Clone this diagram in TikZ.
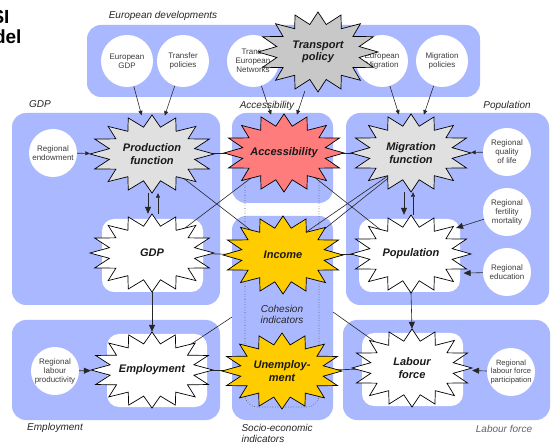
\documentclass[tikz,border=0pt]{standalone}
\usepackage{fontspec}
\setmainfont{Liberation Sans}
\usetikzlibrary{shapes.geometric,arrows.meta}
\definecolor{boxblue}{RGB}{170,184,255}
\definecolor{stargray}{RGB}{224,224,224}
\definecolor{tpgray}{RGB}{200,200,200}
\definecolor{accred}{RGB}{255,124,124}
\definecolor{gold}{RGB}{255,204,0}
\definecolor{txtgray}{RGB}{60,60,60}
\definecolor{lfgray}{RGB}{95,98,117}
\pgfdeclarelayer{back}
\pgfdeclarelayer{conn}
\pgfsetlayers{back,conn,main}
\tikzset{
  grp/.style={fill=boxblue, rounded corners=14pt},
  inbox/.style={fill=white, rounded corners=12pt},
  grplabel/.style={font=\itshape\fontsize{10}{11}\selectfont, text=black!85},
  circ/.style={circle, fill=white, inner sep=0pt, minimum size=#1, align=center, font=\fontsize{8}{9}\selectfont, text=txtgray},
  starline/.style={draw=black, line width=0.7pt},
  startext/.style={ellipse, inner sep=0pt, align=center, font=\bfseries\itshape\fontsize{11}{12.5}\selectfont, text=black!90},
  conn/.style={draw=black!85, line width=0.6pt},
  arr/.style={conn, -{Triangle[length=7pt,width=6pt]}},
  sarr/.style={conn, -{Triangle[length=4.5pt,width=4pt]}},
}
% #1 name, #2 x, #3 y, #4 rx, #5 ry, #6 style, #7 text
\newcommand\burst[7]{%
  \draw[starline,#6,shift={(#2,#3)}] (#4,0)
    \foreach \k in {1,...,31}{ -- ({#4*(1-0.3*mod(\k,2))*cos(\k*11.25)},{#5*(1-0.3*mod(\k,2))*sin(\k*11.25)}) } -- cycle;
  \node[startext, minimum width={2*#4pt}, minimum height={2*#5pt}] (#1) at (#2,#3) {#7};
}
\begin{document}
\begin{tikzpicture}[x=1pt,y=-1pt]
\useasboundingbox (0,0) rectangle (554,443);
\begin{pgfonlayer}{back}
  \fill[grp] (87,25) rectangle (480,97);
  \fill[grp] (12,113) rectangle (220,305);
  \fill[grp] (232,113) rectangle (333,203);
  \fill[grp] (346,113) rectangle (549,305);
  \fill[grp] (232,216) rectangle (333,420);
  \fill[grp] (12,320) rectangle (220,420);
  \fill[grp] (343,320) rectangle (550,420);
  \fill[inbox] (102,219) rectangle (203,292);
  \fill[inbox] (359,219) rectangle (460,292);
  \fill[inbox] (107,334) rectangle (207,407);
  \fill[inbox] (362,333) rectangle (463,406);
  \draw[dotted, black!70, line width=0.6pt, rounded corners=12pt] (245,165) rectangle (319,407);
\end{pgfonlayer}

% title fragments (cut at the left edge as in the reference)
\node[anchor=base east, font=\bfseries\fontsize{19}{21}\selectfont] (ttl1) at (13,24) {SI};
\node[anchor=base east, font=\bfseries\fontsize{19}{21}\selectfont] (ttl2) at (25,44) {del};

% group labels
\node[grplabel] (lbeu) at (163,16) {European developments};
\node[grplabel] (lbgdp) at (40,104) {GDP};
\node[grplabel] (lbacc) at (267,106) {Accessibility};
\node[grplabel] (lbpop) at (507,106) {Population};
\node[grplabel] (lbemp) at (55,428) {Employment};
\node[grplabel, text=lfgray] (lblab) at (504,429) {Labour force};
\node[grplabel, align=left, anchor=west] (lbsoc) at (238,433) {Socio-economic\\indicators};
\node[grplabel, align=center] (lbcoh) at (282,314) {Cohesion\\indicators};

% circles
\node[circ=52pt] (eurgdp) at (127,61) {European\\GDP};
\node[circ=52pt] (transfer) at (183,61) {Transfer\\policies};
\node[circ=52pt] (ten) at (253,61) {Trans-\\European\\Networks};
\node[circ=52pt] (eurmig) at (382,61) {European\\Migration};
\node[circ=52pt] (migpol) at (442,61) {Migration\\policies};
\node[circ=48pt] (endow) at (53,153) {Regional\\endowment};
\node[circ=48pt] (qual) at (507,152) {Regional\\quality\\of life};
\node[circ=48pt] (fert) at (507,212) {Regional\\fertility\\mortality};
\node[circ=48pt] (edu) at (507,272) {Regional\\education};
\node[circ=48pt] (lprod) at (55,371) {Regional\\labour\\productivity};
\node[circ=48pt, font=\fontsize{7.6}{8.8}\selectfont] (lfp) at (511,372) {Regional\\labour force\\participation};

% stars
\burst{transport}{318}{52}{60}{40}{fill=tpgray}{Transport\\policy}
\burst{prod}{152}{154}{62}{39}{fill=stargray}{Production\\function}
\burst{acc}{284}{153}{60}{39}{fill=accred}{Accessibility}
\burst{mig}{411}{153}{60}{39}{fill=stargray}{Migration\\function}
\burst{gdp}{152}{253}{62}{39}{fill=white}{GDP}
\burst{inc}{283}{255}{60}{39}{fill=gold}{Income}
\burst{pop}{411}{254}{60}{39}{fill=white}{Population}
\burst{emp}{152}{370}{61}{38}{fill=white}{Employment}
\burst{unemp}{282}{371}{60}{38}{fill=gold}{Unemploy-\\ment}
\burst{lab}{412}{368}{60}{39}{fill=white}{Labour\\force}

\coordinate (cohl) at (232,317);
\coordinate (cohr) at (333,312);

% plain links, beneath stars
\begin{pgfonlayer}{conn}
  \draw[conn] (prod.center) -- (acc.center);
  \draw[conn] (acc.center) -- (mig.center);
  \draw[conn] (gdp.center) -- (inc.center);
  \draw[conn] (inc.center) -- (pop.center);
  \draw[conn] (emp.center) -- (unemp.center);
  \draw[conn] (unemp.center) -- (lab.center);
  \draw[conn] (prod.center) -- (inc.center);
  \draw[conn] (gdp.center) -- (acc.center);
  \draw[conn] (acc.center) -- (pop.center);
  \draw[conn] ([shift={(0,-7)}]inc.center) -- ([shift={(0,7)}]mig.center);
  \draw[conn] ([shift={(0,7)}]inc.center) -- ([shift={(0,7)}]mig.center);
  \draw[conn] (emp.center) -- (cohl);
  \draw[conn] (lab.center) -- (cohr);
\end{pgfonlayer}

% arrows
\draw[sarr] (eurgdp) -- (prod);
\draw[sarr] (transfer) -- (prod);
\draw[sarr] (ten) -- (acc);
\draw[sarr] (transport) -- (acc);
\draw[sarr] (eurmig) -- (mig);
\draw[sarr] (migpol) -- (mig);
\draw[sarr] (endow) -- (prod);
\draw[sarr] (qual) -- (mig);
\draw[arr] ([xshift=-4pt]prod.south) -- ([xshift=-4pt]gdp.north);
\draw[sarr] ([xshift=6pt]gdp.north) -- ([xshift=6pt]prod.south);
\draw[arr] ([xshift=-7pt]mig.south) -- ([xshift=-7pt]pop.north);
\draw[sarr] ([xshift=2pt]pop.north) -- ([xshift=2pt]mig.south);
\draw[arr] (gdp.south) -- (emp.north);
\draw[arr] (pop.south) -- (lab.north);
\draw[arr] (fert) -- (pop.30);
\draw[arr] (edu) -- (pop.-20);
\draw[arr] (lprod) -- (emp);
\draw[arr] (lfp) -- (lab);
\end{tikzpicture}
\end{document}
